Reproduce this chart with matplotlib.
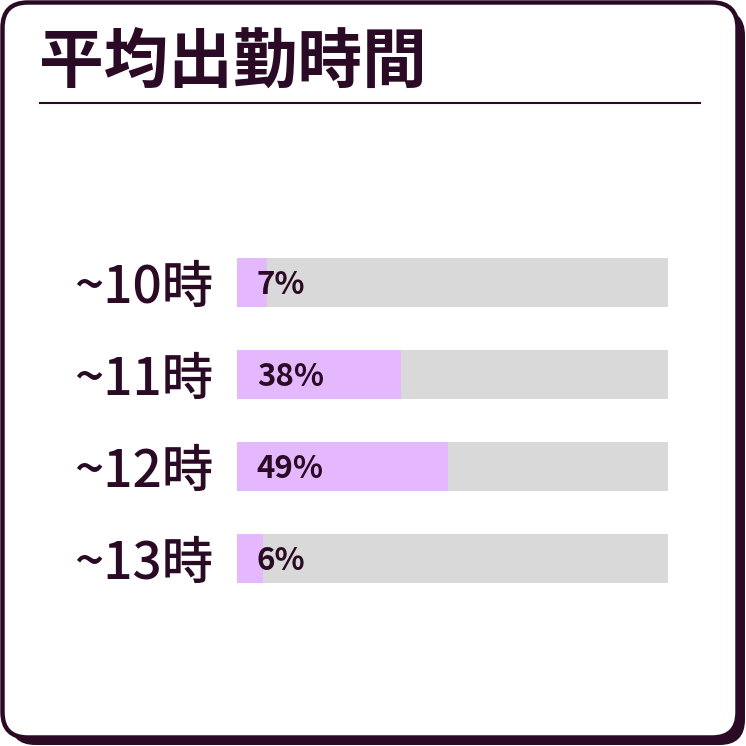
import matplotlib.pyplot as plt
from matplotlib.patches import FancyBboxPatch

plt.rcParams['font.family'] = ['Noto Sans CJK JP', 'DejaVu Sans']

# データ
title = '平均出勤時間'
categories = ['~10時', '~11時', '~12時', '~13時']
values = [7, 38, 49, 6]

ink = '#2a0a24'
pink = '#e5b8fd'
grey = '#d9d9d9'

W = 746  # ピクセル
fig = plt.figure(figsize=(7.46, 7.46), dpi=100)


def fx(px):
    return px / W


def fy(py):
    return 1 - py / W


# カードの影と枠
shadow = FancyBboxPatch((fx(10), fy(745)), fx(735), fx(735),
                        boxstyle='round,pad=0,rounding_size=0.034',
                        transform=fig.transFigure, facecolor=ink,
                        edgecolor='none', zorder=0)
card = FancyBboxPatch((fx(2.5), fy(737.5)), fx(735), fx(735),
                      boxstyle='round,pad=0,rounding_size=0.034',
                      transform=fig.transFigure, facecolor='white',
                      edgecolor=ink, linewidth=3.2, zorder=1)
fig.patches.extend([shadow, card])

# タイトルと下線
fig.text(fx(39), fy(63.5), title, fontsize=46.5, fontweight='bold',
         color=ink, va='center', ha='left', zorder=3)
fig.add_artist(plt.Line2D([fx(40), fx(700)], [fy(102.5), fy(102.5)],
                          transform=fig.transFigure, color=ink,
                          linewidth=1.5, zorder=3))

# 棒グラフ
ax = fig.add_axes([fx(237), fy(604.5), fx(431), fx(368)])
ax.set_zorder(2)
ax.patch.set_alpha(0)
ypos = list(range(len(categories)))
h = 49 / 92
ax.barh(ypos, [100] * len(values), height=h, color=grey, linewidth=0)
ax.barh(ypos, values, height=h, color=pink, linewidth=0)
for y, v in zip(ypos, values):
    ax.text(4.6, y + 0.03, f'{v}%', fontsize=22.5, fontweight='bold',
            color=ink, va='center', ha='left')

ax.set_xlim(0, 100)
ax.set_ylim(len(categories) - 0.5, -0.5)
ax.set_yticks(ypos)
ax.set_yticklabels(categories, fontsize=37, color=ink, fontweight='medium')
ax.tick_params(axis='y', length=0, pad=17)
ax.set_xticks([])
for s in ax.spines.values():
    s.set_visible(False)

fig.savefig('out.png', dpi=100)
